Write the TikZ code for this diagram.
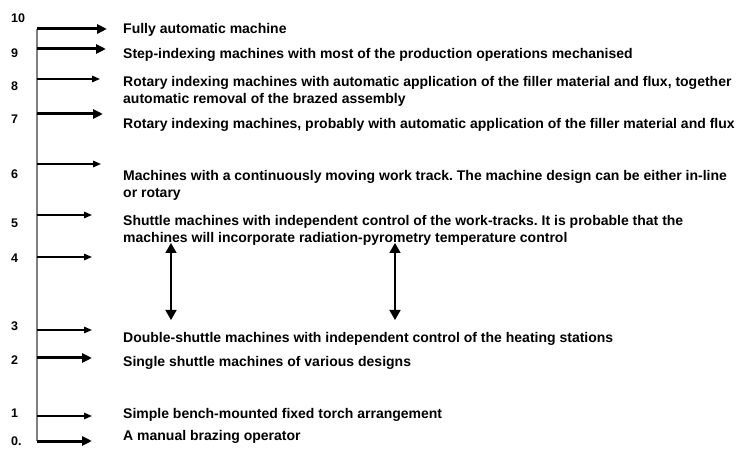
\documentclass[tikz,border=0pt]{standalone}
\usepackage{fontspec}
\setmainfont{Liberation Sans}
\usetikzlibrary{arrows.meta}
\frenchspacing

\begin{document}
\begin{tikzpicture}[x=1pt,y=-1pt,
	lvl/.style={anchor=west, inner sep=0pt, yshift=-1.5pt, font=\bfseries\fontsize{12.5}{14}\selectfont},
	desc/.style={anchor=west, inner sep=0pt, yshift=-1.5pt, align=left, font=\bfseries\fontsize{14}{17}\selectfont},
	bigarr/.style={line width=3pt, -{Triangle[length=10pt,width=9pt]}},
	smallarr/.style={line width=1.4pt, -{Triangle[length=8pt,width=6.5pt]}},
	twoarr/.style={line width=1.6pt, {Triangle[length=10pt,width=11pt]}-{Triangle[length=10pt,width=11pt]}}]
	\useasboundingbox (0,0) rectangle (737,449);
	% the scale
	\coordinate (top) at (37,29);
	\coordinate (bot) at (37,441);
	\draw[draw=black!50, line width=1.2pt] (top) -- (bot);
	% levels
	\node[lvl] (n10) at (11,17) {10};
	\node[lvl] (n9) at (11,52) {9};
	\node[lvl] (n8) at (11,85) {8};
	\node[lvl] (n7) at (11,118) {7};
	\node[lvl] (n6) at (11,173) {6};
	\node[lvl] (n5) at (11,222) {5};
	\node[lvl] (n4) at (11,257) {4};
	\node[lvl] (n3) at (11,325) {3};
	\node[lvl] (n2) at (11,359) {2};
	\node[lvl] (n1) at (11,412) {1};
	\node[lvl] (n0) at (11,440) {0.};
	% arrows off the scale
	\coordinate (a10) at (37,29); \coordinate (e10) at (107,29);
	\coordinate (a9) at (37,49); \coordinate (e9) at (106,49);
	\coordinate (a8) at (37,79); \coordinate (e8) at (100,79);
	\coordinate (a7) at (37,114); \coordinate (e7) at (103,114);
	\coordinate (a6) at (37,164); \coordinate (e6) at (101,164);
	\coordinate (a5) at (37,215); \coordinate (e5) at (92,215);
	\coordinate (a4) at (37,257); \coordinate (e4) at (92,257);
	\coordinate (a3) at (37,330); \coordinate (e3) at (92,330);
	\coordinate (a2) at (37,358); \coordinate (e2) at (92,358);
	\coordinate (a1) at (37,416); \coordinate (e1) at (92,416);
	\coordinate (a0) at (37,441); \coordinate (e0) at (92,441);
	\draw[bigarr] (a10) -- (e10);
	\draw[bigarr] (a9) -- (e9);
	\draw[smallarr] (a8) -- (e8);
	\draw[bigarr] (a7) -- (e7);
	\draw[smallarr] (a6) -- (e6);
	\draw[smallarr] (a5) -- (e5);
	\draw[smallarr] (a4) -- (e4);
	\draw[smallarr] (a3) -- (e3);
	\draw[bigarr] (a2) -- (e2);
	\draw[smallarr] (a1) -- (e1);
	\draw[bigarr] (a0) -- (e0);
	% machine descriptions
	\node[desc] (t10) at (123,28) {Fully automatic machine};
	\node[desc] (t9) at (123,53) {Step-indexing machines with most of the production operations mechanised};
	\node[desc] (t8) at (123,89.5) {Rotary indexing machines with automatic application of the filler material and flux, together\\automatic removal of the brazed assembly};
	\node[desc] (t7) at (123,123) {Rotary indexing machines, probably with automatic application of the filler material and flux};
	\node[desc] (t6) at (123,183.5) {Machines with a continuously moving work track. The machine design can be either in-line\\or rotary};
	\node[desc] (t5) at (123,228.5) {Shuttle machines with independent control of the work-tracks. It is probable that the\\machines will incorporate radiation-pyrometry temperature control};
	\node[desc] (t3) at (123,337) {Double-shuttle machines with independent control of the heating stations};
	\node[desc] (t2) at (123,361) {Single shuttle machines of various designs};
	\node[desc] (t1) at (123,413) {Simple bench-mounted fixed torch arrangement};
	\node[desc] (t0) at (123,435) {A manual brazing operator};
	% double arrows between 5 and 3
	\coordinate (u1) at (171,243); \coordinate (d1) at (171,320);
	\coordinate (u2) at (395,243); \coordinate (d2) at (395,320);
	\draw[twoarr] (u1) -- (d1);
	\draw[twoarr] (u2) -- (d2);
\end{tikzpicture}
\end{document}
